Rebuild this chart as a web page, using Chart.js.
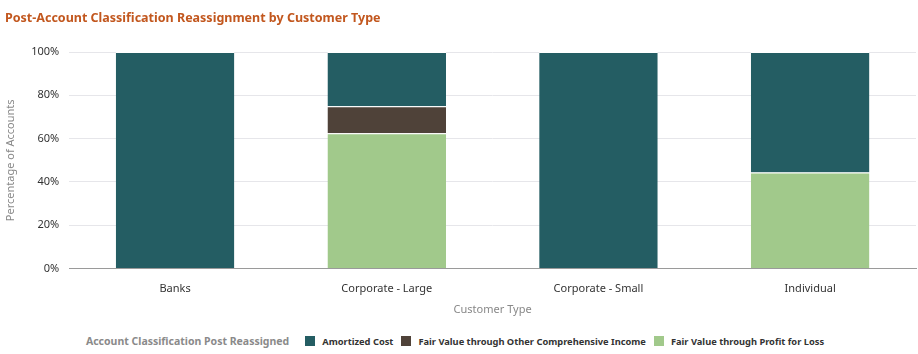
<!DOCTYPE html>
<html>
<head>
<meta charset="utf-8">
<script src="https://cdn.jsdelivr.net/npm/chart.js@4/dist/chart.umd.min.js"></script>
<style>
  body { margin: 0; background: #fff; font-family: "Noto Sans", "Open Sans", sans-serif; }
  .wrap { position: relative; width: 918px; height: 354px; }
  .title { position: absolute; left: 5px; top: 9px; font-size: 12.5px; font-weight: bold; color: #c2571e; white-space: nowrap; }
  .canvas-container { position: absolute; left: 0; top: 0; width: 918px; height: 320px; }
  #legend { position: absolute; left: 0; top: 334px; width: 918px; text-align: center; font-size: 9.3px; white-space: nowrap; }
  #legend .ttl { color: #8a8a8a; font-weight: bold; font-size: 10.5px; margin-right: 16px; }
  #legend .item { font-weight: bold; color: #333; margin-right: 8px; }
  #legend .box { display: inline-block; width: 10px; height: 10px; vertical-align: -1px; margin-right: 7px; }
</style>
</head>
<body>
<div class="wrap">
  <div class="canvas-container"><canvas id="chart"></canvas></div>
  <div class="title">Post-Account Classification Reassignment by Customer Type</div>
  <div id="legend"></div>
</div>
<script>
const categories = ["Banks", "Corporate - Large", "Corporate - Small", "Individual"];
const fvtpl = [0, 62.5, 0, 44.4];
const fvoci = [0, 12.5, 0, 0];
const amortized = [100, 25, 100, 55.6];
const seriesNames = ["Amortized Cost", "Fair Value through Other Comprehensive Income", "Fair Value through Profit for Loss"];
const seriesColors = ["#245d63", "#4f4239", "#a1c98b"];
const yTicks = [0, 20, 40, 60, 80, 100];

const border = { top: 1, right: 0, bottom: 0, left: 0 };

// bottom of the stack first
const datasets = [
  { label: seriesNames[2], data: fvtpl, backgroundColor: seriesColors[2] },
  { label: seriesNames[1], data: fvoci, backgroundColor: seriesColors[1] },
  { label: seriesNames[0], data: amortized, backgroundColor: seriesColors[0] },
].map(function (ds) {
  ds.borderColor = "#ffffff";
  ds.borderWidth = border;
  ds.borderSkipped = false;
  ds.categoryPercentage = 1.0;
  ds.barPercentage = 0.56;
  return ds;
});

const ctx = document.getElementById("chart");
new Chart(ctx, {
  type: "bar",
  data: { labels: categories, datasets: datasets },
  options: {
    responsive: true,
    maintainAspectRatio: false,
    animation: false,
    layout: { padding: { left: 0, right: 2, top: 52, bottom: 0 } },
    plugins: {
      legend: { display: false },
      tooltip: { enabled: false },
    },
    scales: {
      x: {
        stacked: true,
        grid: { display: false, drawTicks: false },
        border: { color: "#9a9a9a" },
        ticks: { color: "#333", padding: 14, font: { family: "'Noto Sans', sans-serif", size: 11 } },
        title: {
          display: true,
          text: "Customer Type",
          color: "#888",
          font: { family: "'Noto Sans', sans-serif", size: 11 },
          padding: { top: -7, bottom: 4 },
        },
      },
      y: {
        stacked: true,
        min: 0,
        max: 100,
        afterBuildTicks: function (axis) {
          axis.ticks = yTicks.map(function (v) { return { value: v }; });
        },
        grid: { color: "#e6e6ea", drawTicks: false },
        border: { display: false },
        ticks: {
          color: "#333",
          padding: 10,
          font: { family: "'Noto Sans', sans-serif", size: 11 },
          callback: function (v) { return v + "%"; },
        },
        title: {
          display: true,
          text: "Percentage of Accounts",
          color: "#888",
          font: { family: "'Noto Sans', sans-serif", size: 11 },
          padding: { bottom: 4 },
        },
      },
    },
  },
});

// inline legend with the title on the same row
const legend = document.getElementById("legend");
let html = '<span class="ttl">Account Classification Post Reassigned</span>';
for (let i = 0; i < seriesNames.length; i++) {
  html += '<span class="item"><span class="box" style="background:' + seriesColors[i] + '"></span>' + seriesNames[i] + "</span>";
}
legend.innerHTML = html;
</script>
</body>
</html>
